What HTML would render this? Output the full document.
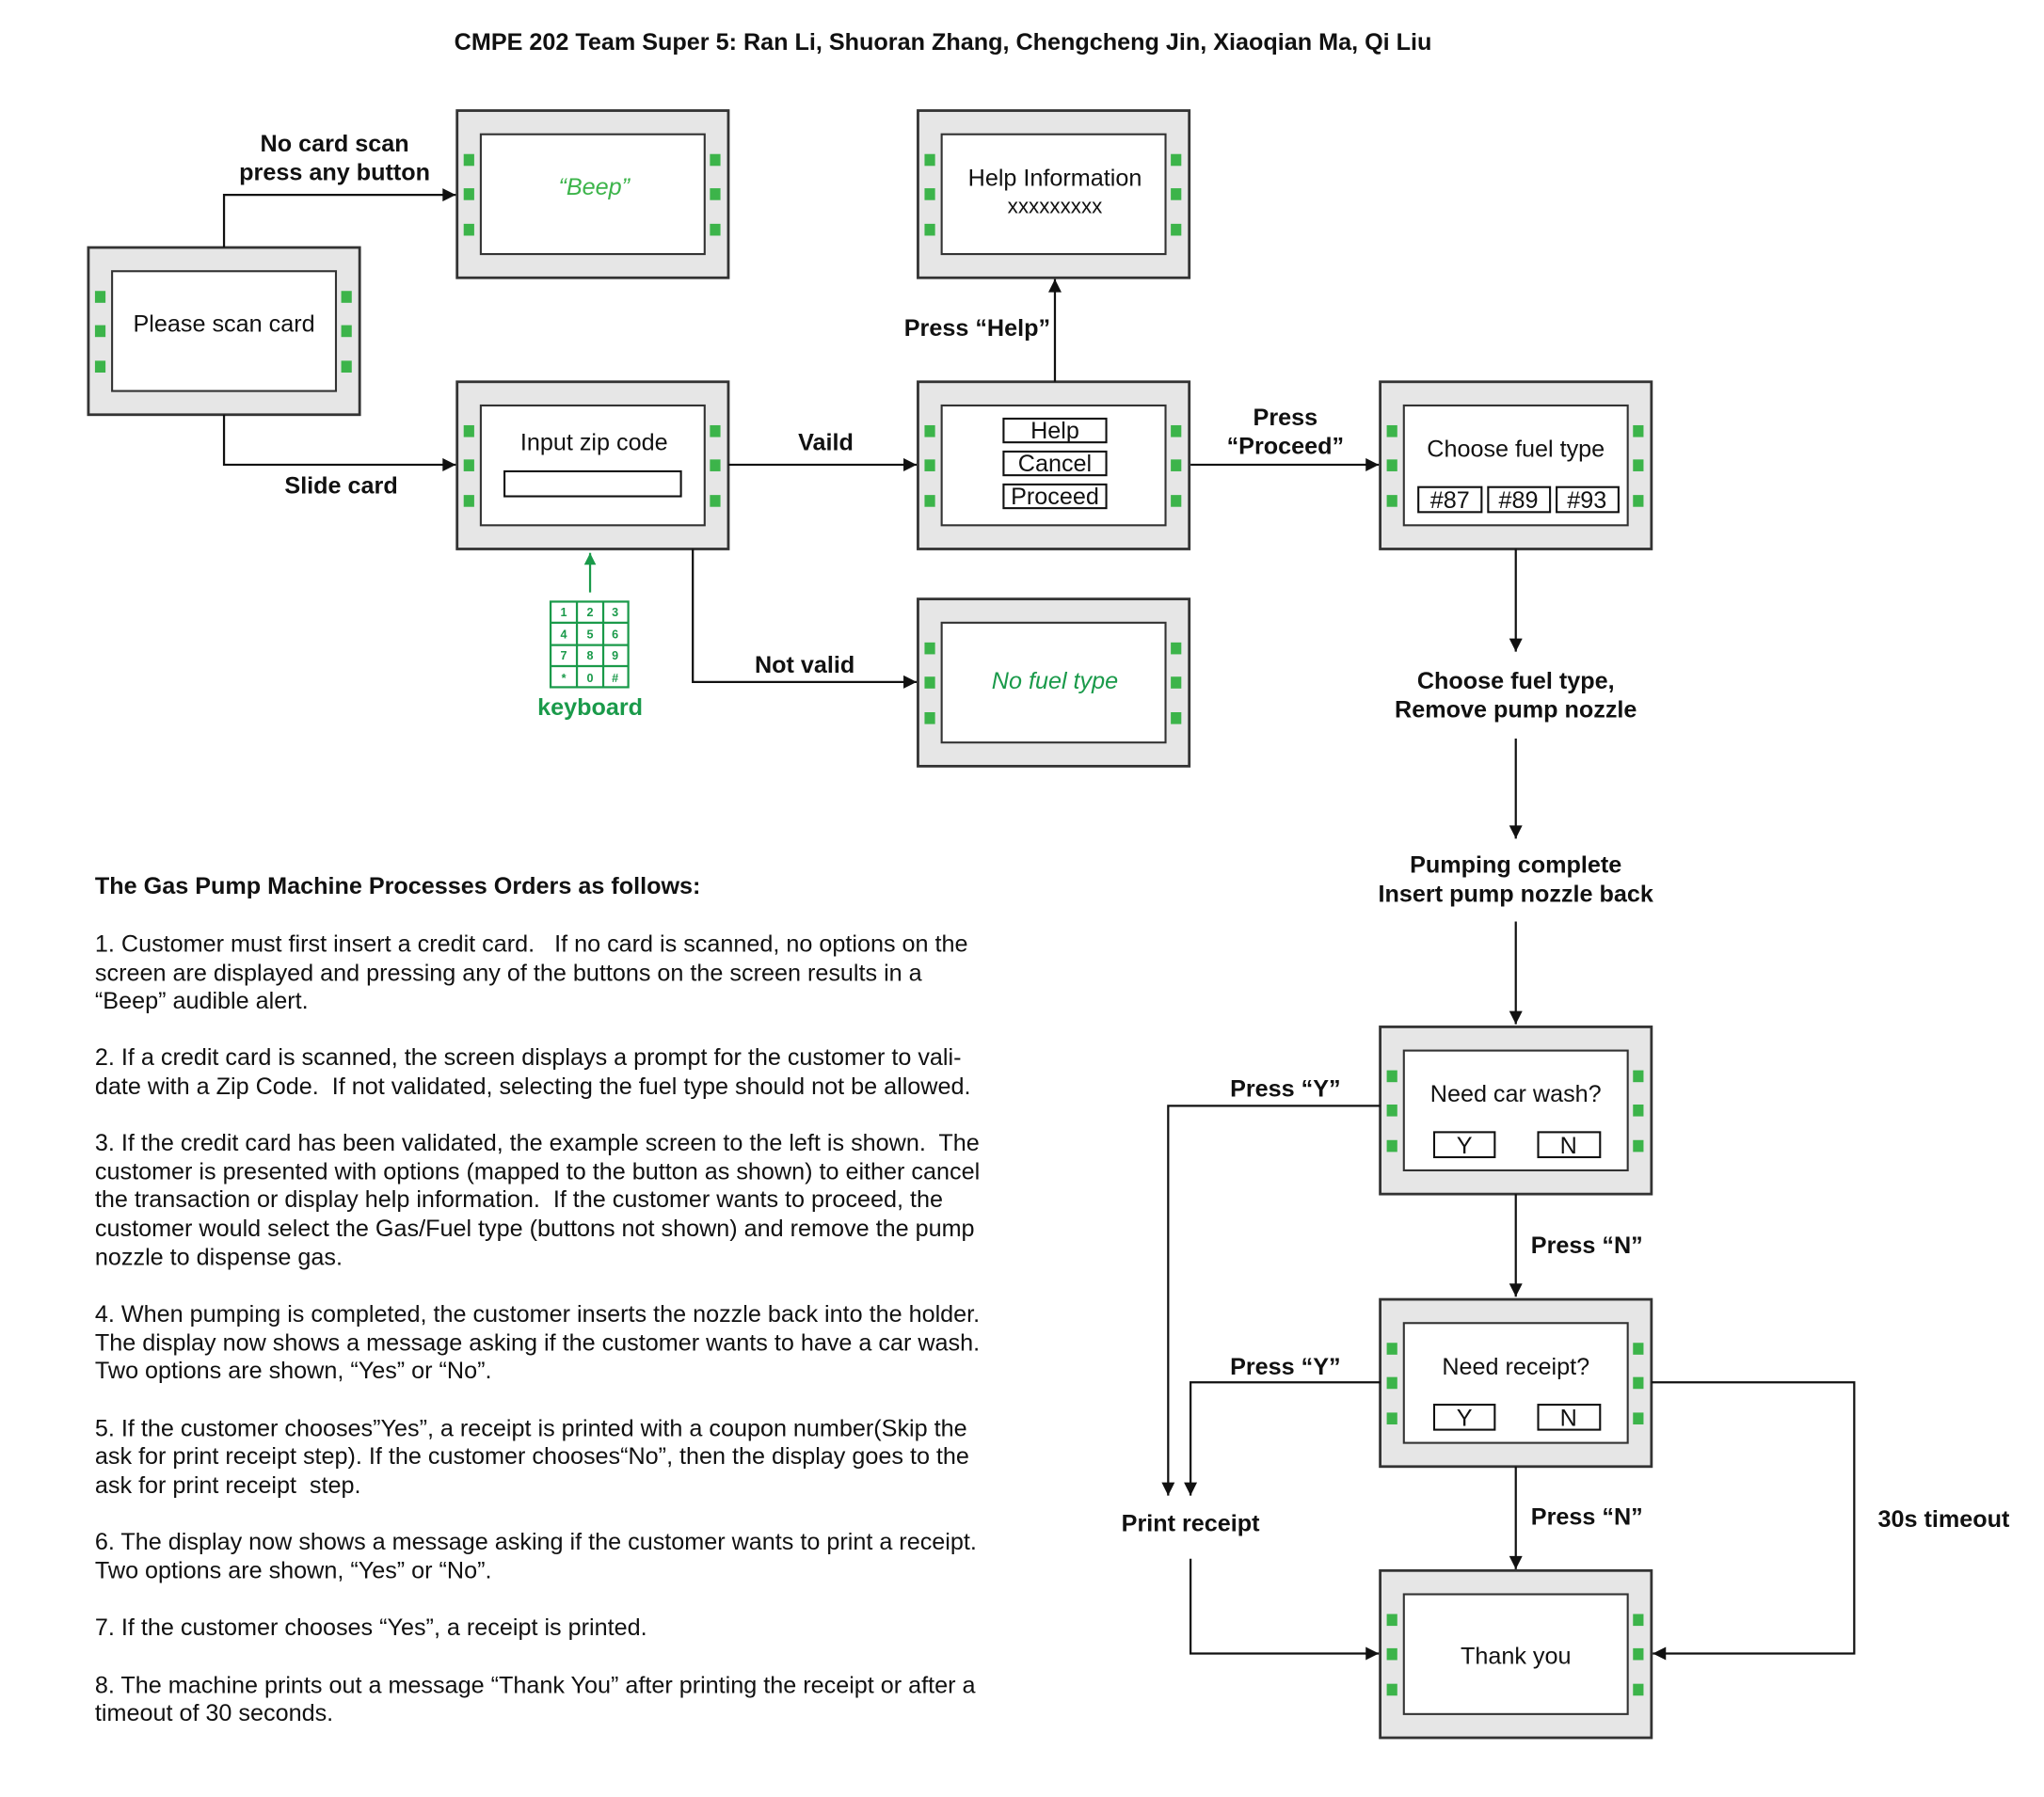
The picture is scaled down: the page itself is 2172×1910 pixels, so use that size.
<!DOCTYPE html>
<html><head><meta charset="utf-8"><style>
html,body{margin:0;padding:0;background:#fff;}
svg{display:block;}
text{font-family:"Liberation Sans",Arial,sans-serif;white-space:pre;}
.b{font-weight:bold;font-size:18px;fill:#111;}
.t{font-size:18px;fill:#111;}
.r{font-size:18px;fill:#111;}
.bx{fill:#e6e6e6;stroke:#333;stroke-width:2;}
.in{fill:#fff;stroke:#333;stroke-width:1.5;}
.g{fill:#3cb44a;}
.ln{fill:none;stroke:#111;stroke-width:1.6;}
.btn{fill:#fff;stroke:#111;stroke-width:1.5;}
</style></head><body>
<svg width="2172" height="1910" viewBox="0 0 1552 1365" xmlns="http://www.w3.org/2000/svg" xml:space="preserve">
<defs>
<marker id="a" viewBox="0 0 10 10" refX="10" refY="5" markerWidth="15" markerHeight="10" markerUnits="userSpaceOnUse" orient="auto"><path d="M0,0L10,5L0,10z" fill="#111"/></marker>
<marker id="ag" viewBox="0 0 10 10" refX="10" refY="5" markerWidth="13" markerHeight="9" markerUnits="userSpaceOnUse" orient="auto"><path d="M0,0L10,5L0,10z" fill="#1a9a4a"/></marker>
<g id="box">
<rect class="bx" x="0" y="0" width="206" height="127"/>
<rect class="in" x="18" y="18" width="170" height="91"/>
<rect class="g" x="5" y="33" width="8" height="9"/><rect class="g" x="5" y="59" width="8" height="9"/><rect class="g" x="5" y="86" width="8" height="9"/>
<rect class="g" x="192" y="33" width="8" height="9"/><rect class="g" x="192" y="59" width="8" height="9"/><rect class="g" x="192" y="86" width="8" height="9"/>
</g>
</defs>
<text class="b" x="716" y="38" text-anchor="middle">CMPE 202 Team Super 5: Ran Li, Shuoran Zhang, Chengcheng Jin, Xiaoqian Ma, Qi Liu</text>

<use href="#box" x="67" y="188"/>
<use href="#box" x="347" y="84"/>
<use href="#box" x="347" y="290"/>
<use href="#box" x="697" y="84"/>
<use href="#box" x="697" y="290"/>
<use href="#box" x="697" y="455"/>
<use href="#box" x="1048" y="290"/>
<use href="#box" x="1048" y="780"/>
<use href="#box" x="1048" y="987"/>
<use href="#box" x="1048" y="1193"/>

<text class="r" x="170" y="252" text-anchor="middle">Please scan card</text>
<text class="r" x="451" y="148" text-anchor="middle" font-style="italic" style="fill:#3cb44a">“Beep”</text>
<text class="r" x="451" y="342" text-anchor="middle">Input zip code</text>
<rect class="btn" x="383" y="358" width="134" height="19"/>
<text class="r" x="801" y="141" text-anchor="middle">Help Information</text>
<text class="r" x="801" y="162" text-anchor="middle" style="font-size:16px">xxxxxxxxx</text>
<rect class="btn" x="762" y="318" width="78" height="18"/><text class="r" x="801" y="333" text-anchor="middle">Help</text>
<rect class="btn" x="762" y="343" width="78" height="18"/><text class="r" x="801" y="358" text-anchor="middle">Cancel</text>
<rect class="btn" x="762" y="368" width="78" height="18"/><text class="r" x="801" y="383" text-anchor="middle">Proceed</text>
<text class="r" x="801" y="523" text-anchor="middle" font-style="italic" style="fill:#1a9a4a">No fuel type</text>
<text class="r" x="1151" y="347" text-anchor="middle">Choose fuel type</text>
<rect class="btn" x="1077" y="370" width="48" height="19"/><text class="r" x="1101" y="386" text-anchor="middle">#87</text>
<rect class="btn" x="1130" y="370" width="47" height="19"/><text class="r" x="1153" y="386" text-anchor="middle">#89</text>
<rect class="btn" x="1182" y="370" width="47" height="19"/><text class="r" x="1205" y="386" text-anchor="middle">#93</text>
<text class="r" x="1151" y="837" text-anchor="middle">Need car wash?</text>
<rect class="btn" x="1089" y="860" width="46" height="19"/><text class="r" x="1112" y="876" text-anchor="middle">Y</text>
<rect class="btn" x="1168" y="860" width="47" height="19"/><text class="r" x="1191" y="876" text-anchor="middle">N</text>
<text class="r" x="1151" y="1044" text-anchor="middle">Need receipt?</text>
<rect class="btn" x="1089" y="1067" width="46" height="19"/><text class="r" x="1112" y="1083" text-anchor="middle">Y</text>
<rect class="btn" x="1168" y="1067" width="47" height="19"/><text class="r" x="1191" y="1083" text-anchor="middle">N</text>
<text class="r" x="1151" y="1264" text-anchor="middle">Thank you</text>

<path class="ln" d="M170,188V148H346" marker-end="url(#a)"/>
<text class="b" x="254" y="115" text-anchor="middle">No card scan</text>
<text class="b" x="254" y="137" text-anchor="middle">press any button</text>
<path class="ln" d="M170,315V353H346" marker-end="url(#a)"/>
<text class="b" x="259" y="375" text-anchor="middle">Slide card</text>
<path class="ln" d="M553,353H696" marker-end="url(#a)"/>
<text class="b" x="627" y="342" text-anchor="middle">Vaild</text>
<path class="ln" d="M526,417V518H696" marker-end="url(#a)"/>
<text class="b" x="611" y="511" text-anchor="middle">Not valid</text>
<path class="ln" d="M801,290V212" marker-end="url(#a)"/>
<text class="b" x="742" y="255" text-anchor="middle">Press “Help”</text>
<path class="ln" d="M904,353H1047" marker-end="url(#a)"/>
<text class="b" x="976" y="323" text-anchor="middle">Press</text>
<text class="b" x="976" y="345" text-anchor="middle">“Proceed”</text>

<path d="M448,450V420" stroke="#1a9a4a" stroke-width="1.6" marker-end="url(#ag)"/>
<g stroke="#1a9a4a" stroke-width="1.6" fill="none">
<rect x="418" y="457" width="59" height="65"/>
<path d="M438,457V522M458,457V522M418,473H477M418,490H477M418,506H477"/>
</g>
<g font-size="9" font-weight="bold" fill="#1a9a4a" text-anchor="middle">
<text x="428" y="468">1</text><text x="448" y="468">2</text><text x="467" y="468">3</text>
<text x="428" y="485">4</text><text x="448" y="485">5</text><text x="467" y="485">6</text>
<text x="428" y="501">7</text><text x="448" y="501">8</text><text x="467" y="501">9</text>
<text x="428" y="518">*</text><text x="448" y="518">0</text><text x="467" y="518">#</text>
</g>
<text class="b" x="448" y="543" text-anchor="middle" style="fill:#1a9a4a">keyboard</text>

<path class="ln" d="M1151,417V495" marker-end="url(#a)"/>
<text class="b" x="1151" y="523" text-anchor="middle">Choose fuel type,</text>
<text class="b" x="1151" y="545" text-anchor="middle">Remove pump nozzle</text>
<path class="ln" d="M1151,561V637" marker-end="url(#a)"/>
<text class="b" x="1151" y="663" text-anchor="middle">Pumping complete</text>
<text class="b" x="1151" y="685" text-anchor="middle">Insert pump nozzle back</text>
<path class="ln" d="M1151,700V778" marker-end="url(#a)"/>

<path class="ln" d="M1048,840H887V1136" marker-end="url(#a)"/>
<text class="b" x="976" y="833" text-anchor="middle">Press “Y”</text>
<path class="ln" d="M1151,907V985" marker-end="url(#a)"/>
<text class="b" x="1205" y="952" text-anchor="middle">Press “N”</text>
<path class="ln" d="M1048,1050H904V1136" marker-end="url(#a)"/>
<text class="b" x="976" y="1044" text-anchor="middle">Press “Y”</text>
<text class="b" x="904" y="1163" text-anchor="middle">Print receipt</text>
<path class="ln" d="M904,1184V1256H1047" marker-end="url(#a)"/>
<path class="ln" d="M1151,1114V1192" marker-end="url(#a)"/>
<text class="b" x="1205" y="1158" text-anchor="middle">Press “N”</text>
<path class="ln" d="M1254,1050H1408V1256H1255" marker-end="url(#a)"/>
<text class="b" x="1476" y="1160" text-anchor="middle">30s timeout</text>

<g class="t">
<text class="b" x="72" y="679">The Gas Pump Machine Processes Orders as follows:</text>
<text x="72" y="723">1. Customer must first insert a credit card.   If no card is scanned, no options on the</text>
<text x="72" y="745">screen are displayed and pressing any of the buttons on the screen results in a</text>
<text x="72" y="766">“Beep” audible alert.</text>
<text x="72" y="809">2. If a credit card is scanned, the screen displays a prompt for the customer to vali-</text>
<text x="72" y="831">date with a Zip Code.  If not validated, selecting the fuel type should not be allowed.</text>
<text x="72" y="874">3. If the credit card has been validated, the example screen to the left is shown.  The</text>
<text x="72" y="896">customer is presented with options (mapped to the button as shown) to either cancel</text>
<text x="72" y="917">the transaction or display help information.  If the customer wants to proceed, the</text>
<text x="72" y="939">customer would select the Gas/Fuel type (buttons not shown) and remove the pump</text>
<text x="72" y="961">nozzle to dispense gas.</text>
<text x="72" y="1004">4. When pumping is completed, the customer inserts the nozzle back into the holder.</text>
<text x="72" y="1026">The display now shows a message asking if the customer wants to have a car wash.</text>
<text x="72" y="1047">Two options are shown, “Yes” or “No”.</text>
<text x="72" y="1091">5. If the customer chooses”Yes”, a receipt is printed with a coupon number(Skip the</text>
<text x="72" y="1112">ask for print receipt step). If the customer chooses“No”, then the display goes to the</text>
<text x="72" y="1134">ask for print receipt  step.</text>
<text x="72" y="1177">6. The display now shows a message asking if the customer wants to print a receipt.</text>
<text x="72" y="1199">Two options are shown, “Yes” or “No”.</text>
<text x="72" y="1242">7. If the customer chooses “Yes”, a receipt is printed.</text>
<text x="72" y="1286">8. The machine prints out a message “Thank You” after printing the receipt or after a</text>
<text x="72" y="1307">timeout of 30 seconds.</text>
</g>
</svg>
</body></html>
